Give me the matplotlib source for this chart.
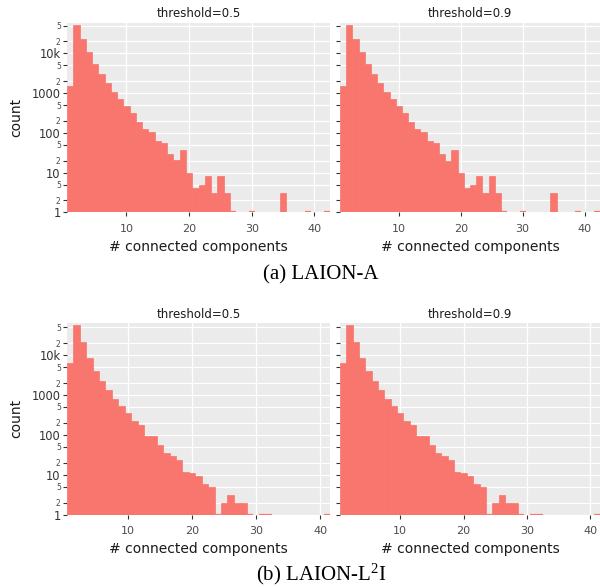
import numpy as np
import matplotlib
matplotlib.use("Agg")
import matplotlib.pyplot as plt

# histogram counts, one entry per number of connected components (1, 2, 3, ...)
laion_a_t05 = [1510, 51600, 22900, 10800, 5390, 3020, 1760, 1045, 697, 473,
               310, 185, 124, 102, 63, 55, 29, 21, 37, 10,
               4, 5, 8, 3, 8, 3, 1, 0, 0, 1,
               0, 0, 0, 0, 3, 0, 0, 0, 1, 0,
               0, 1]
laion_a_t09 = [1510, 51600, 22900, 10800, 5390, 3020, 1760, 1045, 697, 473,
               310, 185, 124, 102, 61, 55, 29, 20, 37, 10,
               4, 5, 8, 3, 8, 3, 1, 0, 0, 1,
               0, 0, 0, 0, 3, 0, 0, 0, 1, 0,
               0, 1]
laion_l2i_t05 = [6300, 56500, 20800, 8500, 3970, 2230, 1320, 790, 530, 345,
                 220, 172, 92, 92, 54, 36, 30, 24, 12, 11,
                 9, 6, 5, 1, 2, 3, 2, 2, 1, 0,
                 1, 1, 0, 0, 0, 0, 0, 0, 0, 0,
                 1]
laion_l2i_t09 = [6300, 56500, 20800, 8500, 3970, 2230, 1320, 790, 530, 345,
                 220, 172, 92, 92, 54, 36, 30, 24, 12, 11,
                 9, 6, 5, 1, 2, 3, 2, 2, 1, 0,
                 1, 1, 0, 0, 0, 0, 0, 0, 0, 0,
                 1]

thresholds = ["threshold=0.5", "threshold=0.9"]
captions = ["(a) LAION-A", r"(b) LAION-L$\mathregular{^2}$I"]

major_ticks = [1, 10, 100, 1000, 10000]
major_labels = ["1", "10", "100", "1000", "10k"]
minor_ticks = [2, 5, 20, 50, 200, 500, 2000, 5000, 20000, 50000]
minor_labels = ["2", "5"] * 5
x_ticks = [10, 20, 30, 40]

BAR = "#F8766D"
PANEL = "#EBEBEB"
W, H = 600, 587

fig = plt.figure(figsize=(6, 5.87), dpi=100)


def px_axes(x0, y0, x1, y1):
    return fig.add_axes([x0 / W, 1 - y1 / H, (x1 - x0) / W, (y1 - y0) / H])


def draw_hist(ax, counts, ytop, show_labels):
    counts = np.array(counts, dtype=float)
    comps = np.arange(1, len(counts) + 1)
    keep = counts > 1
    ax.bar(comps[keep], counts[keep] - 1, bottom=1, width=1.0, color=BAR,
           edgecolor=BAR, linewidth=0.5)
    # bins holding a single item collapse to a flat line on the log axis
    ones = comps[counts == 1]
    ax.hlines(np.ones(len(ones)), ones - 0.5, ones + 0.5, color=BAR, linewidth=1.6)
    ax.set_yscale("log")
    ax.set_ylim(1, ytop)
    ax.set_xlim(0.5, len(counts) + 0.5)
    ax.set_facecolor(PANEL)
    for s in ax.spines.values():
        s.set_visible(False)
    ax.set_axisbelow(True)
    ax.set_xticks(x_ticks)
    ax.set_xticklabels([str(t) for t in x_ticks])
    ax.set_yticks(major_ticks)
    ax.set_yticks(minor_ticks, minor=True)
    if show_labels:
        ax.set_yticklabels(major_labels)
        ax.set_yticklabels(minor_labels, minor=True)
    else:
        ax.set_yticklabels([])
        ax.set_yticklabels([], minor=True)
    ax.tick_params(axis="x", length=3, width=0.8, color="#333333", labelsize=8,
                   labelcolor="#4D4D4D", pad=5.5)
    ax.tick_params(axis="y", which="major", length=3, width=0.8, color="#333333",
                   labelsize=8.3, labelcolor="#333333", pad=1.5)
    ax.tick_params(axis="y", which="minor", length=3, width=0.8, color="#333333",
                   labelsize=5.5, labelcolor="#4D4D4D", pad=1.5)
    ax.grid(True, axis="x", which="major", color="white", linewidth=0.9)
    ax.grid(True, axis="y", which="both", color="white", linewidth=0.9)


rows = [
    (22.7, 212.3, [laion_a_t05, laion_a_t09], 10 ** 4.77, 275),
    (323.3, 514.5, [laion_l2i_t05, laion_l2i_t09], 10 ** 4.8, 574),
]
cols = [(67, 330), (340, 600)]

for r, (top, bottom, series, ytop, cap_y) in enumerate(rows):
    for c, (left, right) in enumerate(cols):
        ax = px_axes(left, top, right, bottom)
        draw_hist(ax, series[c], ytop, show_labels=(c == 0))
        fig.text((left + right) / 2 / W, 1 - (top - 9) / H, thresholds[c],
                 ha="center", va="center", fontsize=8.5, color="#1A1A1A")
        fig.text((left + right) / 2 / W, 1 - (bottom + 35) / H,
                 "# connected components", ha="center", va="center",
                 fontsize=10, color="#1A1A1A")
    fig.text(16 / W, 1 - (top + bottom) / 2 / H, "count", rotation=90,
             ha="center", va="center", fontsize=10, color="#1A1A1A")
    fig.text(321 / W, 1 - cap_y / H, captions[r], ha="center",
             va="center", fontsize=15, family="Liberation Serif")

fig.savefig("out.png", dpi=100)
